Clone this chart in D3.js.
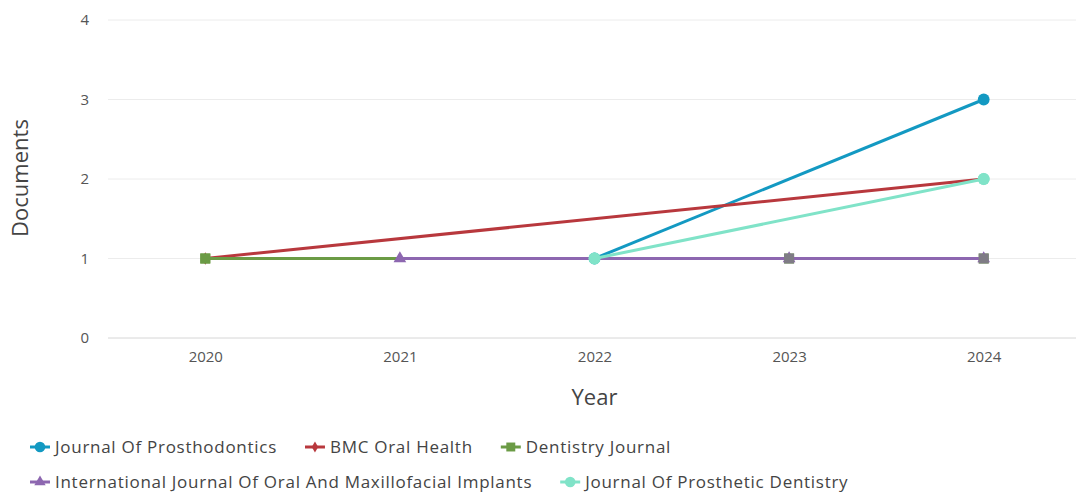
<!DOCTYPE html>
<html>
<head>
<meta charset="utf-8">
<script src="https://cdn.jsdelivr.net/npm/d3@7"></script>
<style>
  html, body { margin: 0; padding: 0; background: #fff; }
  svg { display: block; font-family: "Open Sans", "Noto Sans", sans-serif; }
</style>
</head>
<body>
<svg id="chart" width="1076" height="495"></svg>
<script>
// Publication years on the x axis
const years = [2020, 2021, 2022, 2023, 2024];
const yTicks = [0, 1, 2, 3, 4];

// Documents per year, per source (only years with a value are listed)
const prosthodonticsYears = [2022, 2024];
const prosthodonticsValues = [1, 3];
const bmcYears = [2020, 2024];
const bmcValues = [1, 2];
const dentistryYears = [2020, 2023, 2024];
const dentistryValues = [1, 1, 1];
const implantsYears = [2021, 2023, 2024];
const implantsValues = [1, 1, 1];
const prostheticYears = [2022, 2024];
const prostheticValues = [1, 2];

const seriesNames = [
  "Journal Of Prosthodontics",
  "BMC Oral Health",
  "Dentistry Journal",
  "International Journal Of Oral And Maxillofacial Implants",
  "Journal Of Prosthetic Dentistry"
];
const seriesColors = ["#1399c2", "#b8383d", "#6b9b45", "#8d67b0", "#80e3c8"];
const seriesShapes = [d3.symbolCircle, d3.symbolDiamond, d3.symbolSquare, d3.symbolTriangle, d3.symbolCircle];
const seriesYears = [prosthodonticsYears, bmcYears, dentistryYears, implantsYears, prostheticYears];
const seriesValues = [prosthodonticsValues, bmcValues, dentistryValues, implantsValues, prostheticValues];

const series = seriesNames.map((name, i) => ({
  name, color: seriesColors[i], shape: seriesShapes[i],
  points: seriesYears[i].map((yr, j) => ({ year: yr, value: seriesValues[i][j] }))
}));

const FONT = "'Open Sans', 'Noto Sans', sans-serif";
const svg = d3.select("#chart");
const x = d3.scalePoint().domain(years).range([108, 1081]).padding(0.5);
const y = d3.scaleLinear().domain([0, 4]).range([338, 20]);

// Horizontal grid
svg.append("g").selectAll("line").data(yTicks).join("line")
  .attr("x1", 108).attr("x2", 1076)
  .attr("y1", d => y(d)).attr("y2", d => y(d))
  .attr("stroke", d => d === 0 ? "#d6d6d6" : "#ececec").attr("stroke-width", 1);

// Y axis labels
const yAxis = svg.append("g").attr("transform", "translate(89,0)")
  .call(d3.axisLeft(y).tickValues(yTicks).tickSize(0).tickPadding(0).tickFormat(d3.format("d")));
yAxis.select(".domain").remove();
yAxis.selectAll("text").attr("font-size", 15).attr("fill", "#555").attr("font-family", FONT);

// X axis labels
const xAxis = svg.append("g").attr("transform", "translate(0,351)")
  .call(d3.axisBottom(x).tickSize(0).tickPadding(0).tickFormat(d3.format("d")));
xAxis.select(".domain").remove();
xAxis.selectAll("text").attr("font-size", 15).attr("fill", "#555").attr("font-family", FONT);

// Axis titles
svg.append("text").attr("x", x(2022)).attr("y", 405).attr("text-anchor", "middle")
  .attr("font-size", 22).attr("fill", "#444").text("Year");
svg.append("text").attr("transform", "translate(28,178) rotate(-90)").attr("text-anchor", "middle")
  .attr("font-size", 22).attr("fill", "#444").text("Documents");

const line = d3.line().x(d => x(d.year)).y(d => y(d.value));
const sym = (shape, size) => d3.symbol().type(shape).size(size)();
const symSize = s => s === d3.symbolSquare ? 100 : s === d3.symbolTriangle ? 70 : s === d3.symbolDiamond ? 45 : 110;

// Where an implants point sits on a dentistry marker, the marker is tinted by it
const implantsKeys = new Set(implantsYears.map((yr, j) => yr + ":" + implantsValues[j]));

const plot = svg.append("g");
series.forEach((s, i) => {
  const g = plot.append("g");
  g.append("path").datum(s.points).attr("d", line)
    .attr("fill", "none").attr("stroke", s.color).attr("stroke-width", 3);
  g.selectAll("path.m").data(s.points).join("path").attr("class", "m")
    .attr("transform", d => `translate(${x(d.year)},${y(d.value)})`)
    .attr("d", sym(s.shape, symSize(s.shape)))
    .attr("fill", s.color);
});
// Dentistry markers drawn above the implants line
const dent = series[2];
plot.append("g").selectAll("path").data(dent.points).join("path")
  .attr("transform", d => `translate(${x(d.year)},${y(d.value)})`)
  .attr("d", sym(dent.shape, symSize(dent.shape)))
  .attr("fill", d => implantsKeys.has(d.year + ":" + d.value)
      ? d3.interpolateRgb(dent.color, seriesColors[3])(0.6) : dent.color);
// Prosthetic dentistry markers stay on top
const pd = series[4];
plot.append("g").selectAll("path").data(pd.points).join("path")
  .attr("transform", d => `translate(${x(d.year)},${y(d.value)})`)
  .attr("d", sym(pd.shape, symSize(pd.shape))).attr("fill", pd.color);

// Legend
const rows = [[0, 1, 2], [3, 4]];
const rowY = [447, 482];
rows.forEach((row, r) => {
  let cx = 30;
  row.forEach(i => {
    const s = series[i];
    const item = svg.append("g").attr("transform", `translate(${cx},${rowY[r]})`);
    item.append("line").attr("x1", 0).attr("x2", 20).attr("y1", 0).attr("y2", 0)
      .attr("stroke", s.color).attr("stroke-width", 3);
    item.append("path").attr("transform", "translate(10,0)")
      .attr("d", sym(s.shape, symSize(s.shape) * 0.8)).attr("fill", s.color);
    const t = item.append("text").attr("x", 25).attr("y", 6).attr("font-size", 17)
      .attr("letter-spacing", 0.72).attr("fill", "#444").text(s.name);
    cx += 25 + t.node().getComputedTextLength() + 28;
  });
});
</script>
</body>
</html>
